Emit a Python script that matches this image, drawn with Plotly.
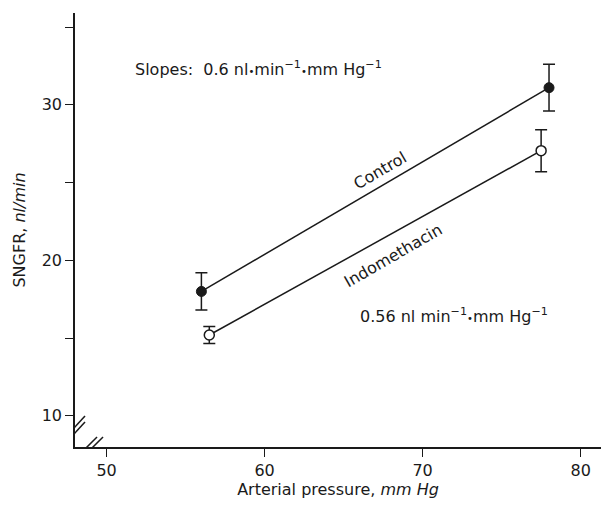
import plotly.graph_objects as go

# Data
control_x = [56.0, 78.0]
control_y = [18.0, 31.1]
control_err = [1.2, 1.5]

indo_x = [56.5, 77.5]
indo_y = [15.2, 27.05]
indo_err = [0.55, 1.35]

y_tickvals = [10, 15, 20, 25, 30, 35]
y_ticktext = ["10", "", "20", "", "30", ""]
x_tickvals = [50, 60, 70, 80]
x_ticktext = ["50", "60", "70", "80"]

FONT = "DejaVu Sans, Liberation Sans, sans-serif"
INK = "#1a1a1a"
FS = 16
DOT = "<span style='font-size:10px'>•</span>"

fig = go.Figure()

fig.add_trace(go.Scatter(
    x=control_x, y=control_y, mode="lines+markers", name="Control",
    line=dict(color=INK, width=1.5),
    marker=dict(symbol="circle", size=10, color=INK, line=dict(color=INK, width=1)),
    error_y=dict(type="data", array=control_err, visible=True, color=INK, thickness=1.5, width=6),
))
fig.add_trace(go.Scatter(
    x=indo_x, y=indo_y, mode="lines+markers", name="Indomethacin",
    line=dict(color=INK, width=1.5),
    marker=dict(symbol="circle", size=10, color="white", line=dict(color=INK, width=1.5)),
    error_y=dict(type="data", array=indo_err, visible=True, color=INK, thickness=1.5, width=6),
))

fig.update_layout(
    width=593, height=494,
    margin=dict(l=67, r=0, t=5, b=55, autoexpand=False),
    paper_bgcolor="white", plot_bgcolor="white",
    showlegend=False,
    font=dict(family=FONT, size=FS, color=INK),
    xaxis=dict(
        range=[48.0, 81.29], showline=True, linecolor=INK, linewidth=1.5,
        showgrid=False, zeroline=False, automargin=False,
        tickmode="array", tickvals=x_tickvals, ticktext=x_ticktext,
        ticks="outside", ticklen=8, tickwidth=1.2, tickcolor=INK,
        tickfont=dict(size=FS, family=FONT, color=INK),
        title=dict(text="Arterial pressure, <i>mm Hg</i>", font=dict(size=FS, family=FONT, color=INK), standoff=4),
    ),
    yaxis=dict(
        range=[8.0, 35.9], showline=True, linecolor=INK, linewidth=1.5,
        showgrid=False, zeroline=False, automargin=False,
        tickmode="array", tickvals=y_tickvals, ticktext=y_ticktext,
        ticks="outside", ticklen=8, tickwidth=1.2, tickcolor=INK,
        tickfont=dict(size=FS, family=FONT, color=INK),
        title=dict(text="SNGFR, <i>nl/min</i>", font=dict(size=FS, family=FONT, color=INK), standoff=12),
    ),
)

# Annotations
fig.add_annotation(x=0.110, y=0.873, xref="paper", yref="paper", xanchor="left", yanchor="middle",
                   text=f"Slopes:  0.6 nl{DOT}min<sup>−1</sup>{DOT}mm Hg<sup>−1</sup>", showarrow=False,
                   font=dict(size=FS, family=FONT, color=INK))
fig.add_annotation(x=0.538, y=0.302, xref="paper", yref="paper", xanchor="left", yanchor="middle",
                   text=f"0.56 nl min<sup>−1</sup>{DOT}mm Hg<sup>−1</sup>", showarrow=False,
                   font=dict(size=FS, family=FONT, color=INK))
fig.add_annotation(x=0.580, y=0.638, xref="paper", yref="paper",
                   text="Control", showarrow=False, textangle=-30,
                   font=dict(size=FS, family=FONT, color=INK))
fig.add_annotation(x=0.605, y=0.442, xref="paper", yref="paper",
                   text="Indomethacin", showarrow=False, textangle=-30,
                   font=dict(size=FS, family=FONT, color=INK))

# Axis break marks (pixel-sized, anchored on the axis lines)
for c in (-3, 3):
    fig.add_shape(type="line", xref="x", yref="y", xsizemode="pixel", ysizemode="pixel",
                  xanchor=48.0, yanchor=9.1, x0=-10, y0=c - 11, x1=10, y1=c + 11,
                  line=dict(color=INK, width=1.5))
    fig.add_shape(type="line", xref="x", yref="y", xsizemode="pixel", ysizemode="pixel",
                  xanchor=48.95, yanchor=8.0, x0=c - 10, y0=-10, x1=c + 10, y1=10,
                  line=dict(color=INK, width=1.5))

fig.write_html("out.html")
